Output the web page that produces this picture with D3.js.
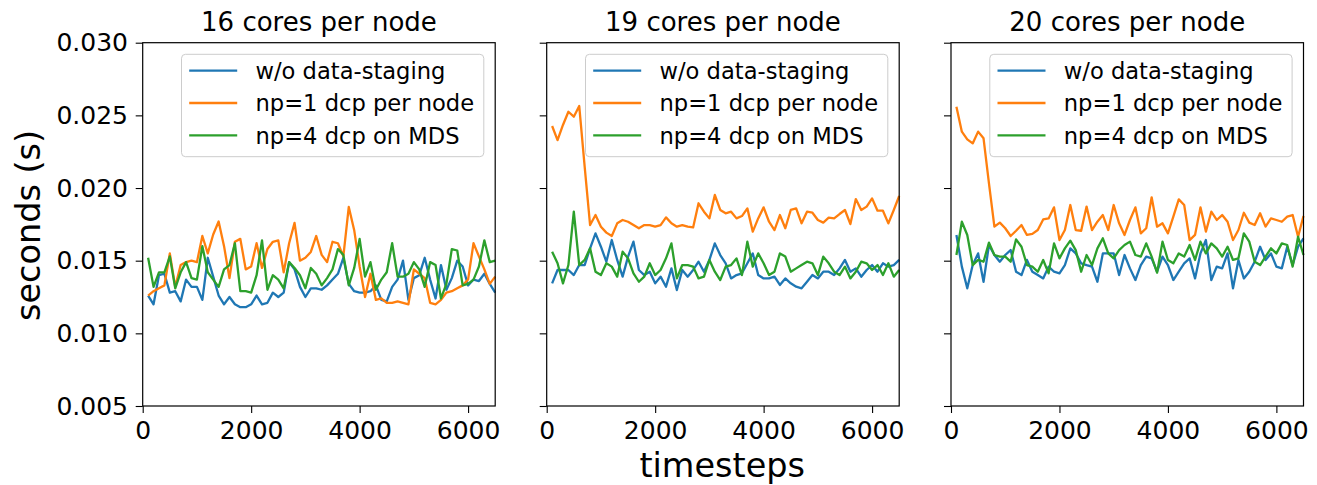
<!DOCTYPE html>
<html>
<head>
<meta charset="utf-8">
<script src="https://cdn.jsdelivr.net/npm/d3@7"></script>
<style>
  html, body { margin: 0; padding: 0; background: #fff; }
  svg text { font-family: "DejaVu Sans", sans-serif; fill: #000; }
</style>
</head>
<body>
<svg id="chart" width="1317" height="485"></svg>
<script>
// x values: one sample every 100 timesteps
var timesteps = d3.range(100, 6501, 100);

var panelTitles = ['16 cores per node', '19 cores per node', '20 cores per node'];
var seriesNames = ['w/o data-staging', 'np=1 dcp per node', 'np=4 dcp on MDS'];
var xTicks = [0, 2000, 4000, 6000];
var yTicks = [0.005, 0.010, 0.015, 0.020, 0.025, 0.030];

// 16 cores per node
var c16NoStaging = [0.0126,0.0120,0.0140,0.0141,0.0128,0.0129,0.0122,0.0137,0.0132,0.0132,0.0123,0.0152,0.0139,0.0126,0.0120,0.0125,0.0120,0.0118,0.0118,0.0120,0.0126,0.0120,0.0121,0.0128,0.0125,0.0128,0.0149,0.0144,0.0132,0.0125,0.0131,0.0131,0.0130,0.0133,0.0137,0.0141,0.0152,0.0134,0.0129,0.0128,0.0128,0.0129,0.0133,0.0123,0.0122,0.0132,0.0137,0.0150,0.0123,0.0138,0.0140,0.0152,0.0137,0.0124,0.0147,0.0130,0.0138,0.0150,0.0146,0.0133,0.0137,0.0136,0.0141,0.0134,0.0128];
var c16Np1 = [0.0126,0.0129,0.0131,0.0133,0.0155,0.0132,0.0147,0.0149,0.0150,0.0149,0.0167,0.0155,0.0168,0.0177,0.0160,0.0138,0.0163,0.0165,0.0144,0.0146,0.0162,0.0145,0.0158,0.0163,0.0164,0.0142,0.0162,0.0176,0.0150,0.0152,0.0156,0.0167,0.0154,0.0149,0.0163,0.0162,0.0153,0.0187,0.0171,0.0146,0.0125,0.0141,0.0123,0.0124,0.0121,0.0121,0.0122,0.0121,0.0120,0.0144,0.0141,0.0138,0.0121,0.0120,0.0123,0.0128,0.0129,0.0131,0.0133,0.0137,0.0162,0.0153,0.0144,0.0134,0.0139];
var c16Np4 = [0.0152,0.0132,0.0142,0.0142,0.0153,0.0131,0.0142,0.0149,0.0138,0.0137,0.0160,0.0142,0.0137,0.0132,0.0144,0.0147,0.0162,0.0129,0.0129,0.0128,0.0140,0.0164,0.0130,0.0140,0.0137,0.0131,0.0149,0.0145,0.0140,0.0131,0.0145,0.0141,0.0133,0.0138,0.0144,0.0158,0.0154,0.0133,0.0145,0.0165,0.0139,0.0149,0.0130,0.0137,0.0142,0.0162,0.0139,0.0139,0.0141,0.0149,0.0144,0.0132,0.0149,0.0147,0.0124,0.0134,0.0158,0.0157,0.0133,0.0134,0.0137,0.0146,0.0164,0.0149,0.0150];

// 19 cores per node
var c19NoStaging = [0.01344,0.01436,0.01436,0.01436,0.01401,0.0147,0.0147,0.01585,0.01688,0.01596,0.01493,0.01642,0.01505,0.0139,0.01528,0.01631,0.01436,0.01401,0.01424,0.01344,0.0139,0.01321,0.01447,0.01298,0.01436,0.0139,0.01436,0.01493,0.01424,0.01505,0.01619,0.01539,0.01482,0.01378,0.01401,0.01413,0.01482,0.0155,0.01401,0.01378,0.01378,0.0139,0.01333,0.01378,0.01344,0.01321,0.0131,0.01355,0.01401,0.01378,0.01424,0.01424,0.01401,0.01447,0.01505,0.01424,0.01447,0.0139,0.01436,0.0147,0.01424,0.01482,0.01459,0.0147,0.01505];
var c19Np1 = [0.02427,0.0233,0.02434,0.02525,0.02491,0.02564,0.02147,0.01745,0.01814,0.01734,0.01693,0.0167,0.01757,0.0178,0.01768,0.01745,0.01723,0.01745,0.01745,0.01734,0.01745,0.01798,0.01757,0.01734,0.01745,0.01734,0.01729,0.01895,0.01837,0.01791,0.01952,0.01849,0.01826,0.01837,0.01791,0.01807,0.0186,0.017,0.01791,0.01867,0.01768,0.01711,0.01814,0.01723,0.01849,0.0186,0.01757,0.01837,0.0183,0.0178,0.01762,0.01796,0.01791,0.01821,0.01849,0.01752,0.01924,0.01849,0.01872,0.01929,0.01844,0.01844,0.01757,0.01849,0.01945];
var c19Np4 = [0.01562,0.01482,0.01344,0.0147,0.01837,0.0147,0.01505,0.01585,0.01424,0.01401,0.01482,0.01459,0.0139,0.01562,0.01516,0.01413,0.01355,0.0139,0.01482,0.01401,0.01436,0.01516,0.01619,0.01378,0.0147,0.0147,0.01459,0.01378,0.0139,0.01505,0.01424,0.01367,0.01459,0.0147,0.01516,0.01401,0.01631,0.01459,0.0155,0.01482,0.01401,0.01424,0.0155,0.01528,0.01424,0.01447,0.0147,0.01493,0.01482,0.01401,0.01528,0.01482,0.01424,0.01401,0.01459,0.01378,0.01424,0.01493,0.01482,0.01436,0.0147,0.01401,0.01482,0.0139,0.01436];

// 20 cores per node
var c20NoStaging = [0.01677,0.01459,0.0131,0.0147,0.0155,0.01355,0.01608,0.01539,0.01493,0.01539,0.01573,0.01424,0.01401,0.01505,0.01424,0.01401,0.01378,0.01459,0.01424,0.01413,0.0147,0.01585,0.0155,0.01482,0.0147,0.01459,0.01355,0.0155,0.0155,0.0155,0.01401,0.01539,0.01447,0.01367,0.0147,0.01528,0.01516,0.01424,0.01528,0.0147,0.01367,0.01424,0.01482,0.01516,0.01378,0.0155,0.01642,0.01367,0.01459,0.01447,0.0155,0.0131,0.01505,0.01378,0.01424,0.01493,0.01596,0.01505,0.0155,0.01459,0.01447,0.01596,0.0147,0.01596,0.01654];
var c20Np1 = [0.0256,0.02388,0.02335,0.02307,0.02388,0.02342,0.02032,0.01734,0.01762,0.01723,0.0167,0.01706,0.01745,0.01677,0.01684,0.01711,0.01784,0.01791,0.01867,0.01642,0.01711,0.01883,0.01711,0.01706,0.01872,0.01711,0.01768,0.01814,0.01711,0.01883,0.01757,0.01677,0.0178,0.01867,0.01688,0.01723,0.01936,0.01734,0.01757,0.01688,0.01803,0.01922,0.01883,0.01642,0.01677,0.01867,0.017,0.01837,0.0178,0.01814,0.01768,0.01642,0.01711,0.0183,0.01762,0.01745,0.01826,0.01734,0.01791,0.0178,0.01768,0.01803,0.01814,0.01665,0.01807];
var c20Np4 = [0.01539,0.01768,0.01677,0.0147,0.01505,0.01493,0.01624,0.01539,0.01528,0.01528,0.01493,0.01647,0.01596,0.0147,0.01459,0.01424,0.01505,0.01413,0.01619,0.01516,0.01585,0.01638,0.01573,0.01424,0.01539,0.0147,0.01585,0.01654,0.0155,0.01516,0.01573,0.01608,0.01631,0.01539,0.01528,0.01619,0.01528,0.01417,0.01631,0.01505,0.01482,0.0155,0.01528,0.01608,0.01505,0.01631,0.0155,0.01619,0.01585,0.01528,0.01596,0.01505,0.01516,0.01688,0.01631,0.01493,0.0147,0.01528,0.01585,0.0155,0.01619,0.01608,0.01459,0.01665,0.01539];

var panelData = [
  [c16NoStaging, c16Np1, c16Np4],
  [c19NoStaging, c19Np1, c19Np4],
  [c20NoStaging, c20Np1, c20Np4]
];
var colors = ['#1f77b4', '#ff7f0e', '#2ca02c'];

var svg = d3.select('#chart');

var panelLefts = [142.7, 546.7, 951];
var panelW = 352.5;
var plotTop = 42.7, plotBottom = 406;
var panelH = plotBottom - plotTop;

var x = d3.scaleLinear().domain([0, 6500]).range([0, panelW]);
var y = d3.scaleLinear().domain([0.005, 0.030]).range([panelH, 0]);

var line = d3.line()
  .x(function (d, i) { return x(timesteps[i]); })
  .y(function (d) { return y(d); });

panelLefts.forEach(function (left, p) {
  var g = svg.append('g').attr('transform', 'translate(' + left + ',' + plotTop + ')');

  // data lines
  panelData[p].forEach(function (series, s) {
    g.append('path')
      .datum(series)
      .attr('d', line)
      .attr('fill', 'none')
      .attr('stroke', colors[s])
      .attr('stroke-width', 2.3)
      .attr('stroke-linejoin', 'round');
  });

  // axes
  var xAxis = g.append('g')
    .attr('transform', 'translate(0,' + panelH + ')')
    .call(d3.axisBottom(x).tickValues(xTicks).tickSize(7).tickSizeOuter(0).tickPadding(8.5)
      .tickFormat(d3.format('d')));

  var yAxisGen = d3.axisLeft(y).tickValues(yTicks).tickSize(7).tickSizeOuter(0).tickPadding(7.7)
    .tickFormat(p === 0 ? d3.format('.3f') : function () { return ''; });
  var yAxis = g.append('g').call(yAxisGen);

  [xAxis, yAxis].forEach(function (a) {
    a.select('.domain').remove();
    a.selectAll('line').attr('stroke', '#000').attr('stroke-width', 1.1);
    a.selectAll('text').attr('font-size', 25).attr('font-family', '"DejaVu Sans", sans-serif').attr('fill', '#000');
  });

  // frame
  g.append('rect')
    .attr('width', panelW).attr('height', panelH)
    .attr('fill', 'none').attr('stroke', '#000').attr('stroke-width', 1.2);

  // title
  g.append('text')
    .attr('x', panelW / 2).attr('y', 31 - plotTop)
    .attr('text-anchor', 'middle')
    .attr('font-size', 26)
    .text(panelTitles[p]);

  // legend
  var legW = 302.3, legH = 102.4;
  var leg = g.append('g').attr('transform', 'translate(' + (panelW - 11.4 - legW) + ',11.6)');
  leg.append('rect')
    .attr('width', legW).attr('height', legH).attr('rx', 4)
    .attr('fill', '#fff').attr('fill-opacity', 0.8)
    .attr('stroke', '#cccccc').attr('stroke-width', 1);
  seriesNames.forEach(function (name, s) {
    var ry = 16.4 + s * 32.3;
    leg.append('line')
      .attr('x1', 7.7).attr('x2', 55.7).attr('y1', ry).attr('y2', ry)
      .attr('stroke', colors[s]).attr('stroke-width', 2.3);
    leg.append('text')
      .attr('x', 74).attr('y', ry + 8.3)
      .attr('font-size', 22.6)
      .text(name);
  });
});

// shared axis labels
svg.append('text')
  .attr('x', 722.2).attr('y', 476.5)
  .attr('text-anchor', 'middle')
  .attr('font-size', 33.5)
  .text('timesteps');

svg.append('text')
  .attr('transform', 'translate(40,225.5) rotate(-90)')
  .attr('text-anchor', 'middle')
  .attr('font-size', 33.5)
  .text('seconds (s)');
</script>
</body>
</html>
